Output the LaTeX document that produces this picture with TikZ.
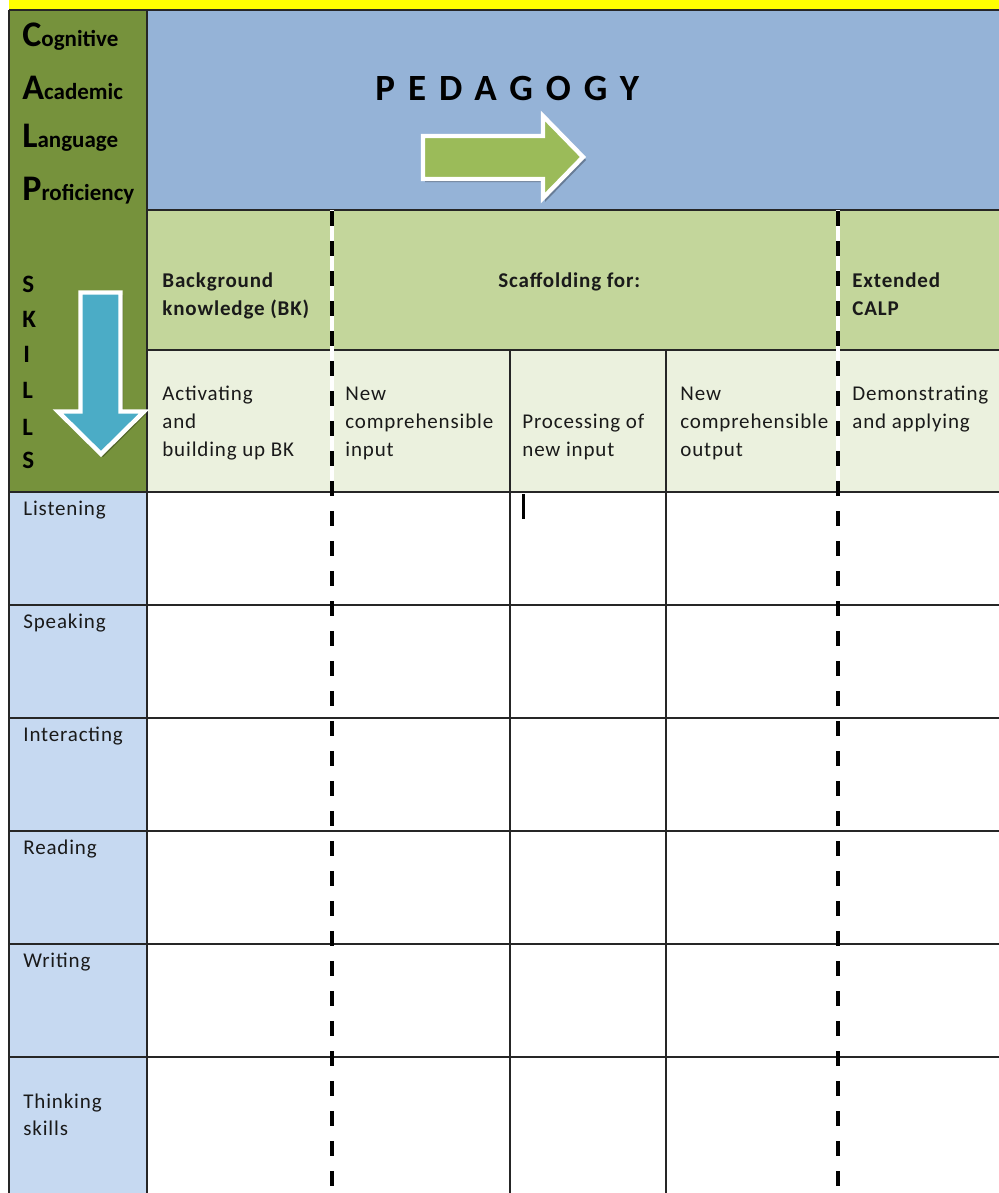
\documentclass[tikz,border=0pt]{standalone}
\usepackage{fontspec}
\setmainfont{Carlito}
\newfontfamily\cellfont[LetterSpace=4]{Carlito}
\newfontfamily\pedfont[LetterSpace=35]{Carlito}
\definecolor{ylw}{HTML}{FFFF00}
\definecolor{olivecol}{HTML}{76923C}
\definecolor{hblue}{HTML}{95B3D7}
\definecolor{hgreen}{HTML}{C3D69B}
\definecolor{lgreen}{HTML}{EBF1DE}
\definecolor{rblue}{HTML}{C6D9F1}
\definecolor{arrgreen}{HTML}{9BBB59}
\definecolor{arrblue}{HTML}{4BACC6}
\definecolor{gridc}{HTML}{262626}
\definecolor{txt}{HTML}{1A1A1A}
\tikzset{
  gridline/.style={draw=gridc, line width=0.75pt},
  dashline/.style={draw=black, line width=2pt, dash pattern=on 7.5pt off 7.5pt},
  gapline/.style={draw=white, line width=2pt},
  celltxt/.style={anchor=base west, inner sep=0pt, text=txt, font=\cellfont\fontsize{10.5pt}{12pt}\selectfont},
  boldtxt/.style={celltxt, font=\cellfont\bfseries\fontsize{10.5pt}{12pt}\selectfont},
  calptxt/.style={anchor=base west, inner sep=0pt, text=black, font=\bfseries\fontsize{11.5pt}{13pt}\selectfont},
  skilltxt/.style={anchor=base west, inner sep=0pt, text=black, font=\bfseries\fontsize{12.5pt}{14pt}\selectfont},
  arrowshape/.style={draw=white, line width=2.2pt, line join=miter},
  shadowshape/.style={fill=black, opacity=0.3},
}
\newcommand{\bigL}[1]{{\fontsize{18pt}{20pt}\selectfont #1}}
\begin{document}
\begin{tikzpicture}[x=0.5pt,y=-0.5pt]
\useasboundingbox (0,0) rectangle (999,1193);
\fill[white] (0,0) rectangle (999,1193);
% backgrounds
\fill[ylw] (9,0) rectangle (999,10);
\fill[olivecol] (9,10) rectangle (147,492);
\fill[hblue] (147,10) rectangle (999,210);
\fill[hgreen] (147,210) rectangle (999,350);
\fill[lgreen] (147,350) rectangle (999,492);
\fill[rblue] (9,492) rectangle (147,1193);

% grid
\coordinate (tl) at (9,10);
\coordinate (tr) at (999,10);
\coordinate (bl) at (9,1193);
\draw[gridline] (tl) -- (tr);
\draw[gridline] (tl) -- (bl);
\draw[gridline] (147,10) -- (147,1193);
\draw[gridline] (147,210) -- (999,210);
\draw[gridline] (147,350) -- (999,350);
\foreach \y in {492,605,718,831,944,1057}
  \draw[gridline] (9,\y) -- (999,\y);
\draw[gridline] (510,350) -- (510,1193);
\draw[gridline] (666,350) -- (666,1193);

% dashed separators
\foreach \x in {332,838} {
  \draw[gapline] (\x,210) -- (\x,492);
  \draw[dashline] (\x,211) -- (\x,1193);
}
% small tick in Listening row
\draw[black, line width=1.5pt] (523,494) -- (523,519);

% green arrow (right)
\fill[shadowshape] (425,139) -- (545,139) -- (545,119) -- (586,160) -- (545,202) -- (545,182) -- (425,182) -- cycle;
\filldraw[fill=arrgreen, arrowshape] (423,136) -- (543,136) -- (543,116) -- (583,157) -- (543,198) -- (543,179) -- (423,179) -- cycle;

% blue arrow (down)
\fill[shadowshape] (83,295) -- (123,295) -- (123,414) -- (146,414) -- (103,457) -- (60,414) -- (83,414) -- cycle;
\filldraw[fill=arrblue, arrowshape] (80.5,292.5) -- (120.5,292.5) -- (120.5,411.5) -- (144,411.5) -- (101,454) -- (58,411.5) -- (80.5,411.5) -- cycle;

% PEDAGOGY
\node[anchor=base west, inner sep=0pt, font=\pedfont\bfseries\fontsize{18.5pt}{20pt}\selectfont] (ped) at (375,101) {PEDAGOGY};

% CALP column
\node[calptxt] (cog) at (22,47) {\bigL{C}ognitive};
\node[calptxt] (aca) at (22,99) {\bigL{A}cademic};
\node[calptxt] (lan) at (22,148) {\bigL{L}anguage};
\node[calptxt] (pro) at (22,200) {\bigL{P}roficiency};

% SKILLS
\node[skilltxt] (s1) at (22,292) {S};
\node[skilltxt] (s2) at (22,327) {K};
\node[skilltxt] (s3) at (23,362) {I};
\node[skilltxt] (s4) at (22,398) {L};
\node[skilltxt] (s5) at (22,435) {L};
\node[skilltxt] (s6) at (22,468) {S};

% header row
\node[boldtxt] (bk1) at (162,287) {Background};
\node[boldtxt] (bk2) at (162,315) {knowledge (BK)};
\node[boldtxt] (scf) at (498,287) {Scaffolding for:};
\node[boldtxt] (ext1) at (852,287) {Extended};
\node[boldtxt] (ext2) at (852,315) {CALP};

% sub-header row
\node[celltxt] (act1) at (162,400) {Activating};
\node[celltxt] (act2) at (162,428) {and};
\node[celltxt] (act3) at (162,456) {building up BK};
\node[celltxt] (nin1) at (345,400) {New};
\node[celltxt] (nin2) at (345,428) {comprehensible};
\node[celltxt] (nin3) at (345,456) {input};
\node[celltxt] (proc1) at (522,428) {Processing of};
\node[celltxt] (proc2) at (522,456) {new input};
\node[celltxt] (nout1) at (680,400) {New};
\node[celltxt] (nout2) at (680,428) {comprehensible};
\node[celltxt] (nout3) at (680,456) {output};
\node[celltxt] (dem1) at (852,400) {Demonstrating};
\node[celltxt] (dem2) at (852,428) {and applying};

% row labels
\node[celltxt] (r1) at (23,515) {Listening};
\node[celltxt] (r2) at (23,628) {Speaking};
\node[celltxt] (r3) at (23,741) {Interacting};
\node[celltxt] (r4) at (23,854) {Reading};
\node[celltxt] (r5) at (23,967) {Writing};
\node[celltxt] (r6a) at (23,1108) {Thinking};
\node[celltxt] (r6b) at (23,1135) {skills};
\end{tikzpicture}
\end{document}
